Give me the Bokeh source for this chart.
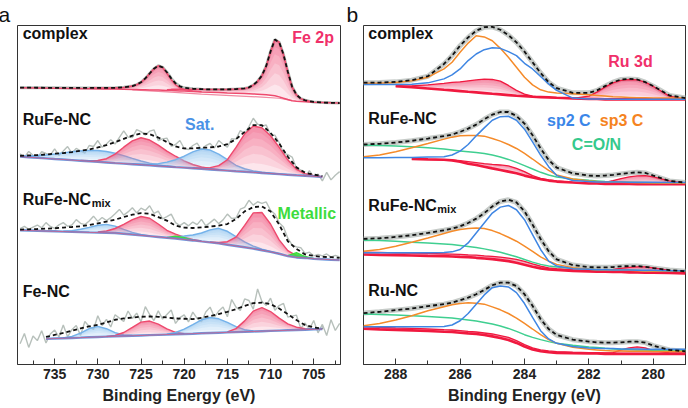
import numpy as np
from bokeh.plotting import figure
from bokeh.models import Range1d, FixedTicker, Label
from bokeh.layouts import row
from bokeh.embed import file_html
from bokeh.resources import INLINE

FONT = "Liberation Sans"

# ================= Panel a : Fe 2p (intensity in a.u.) =================
# complex
E_cx = [739, 737, 735, 733, 731, 729, 728, 727, 726, 725.5, 725, 724.5, 724, 723.5, 723, 722.5,
        722, 721.5, 721, 720.5, 720, 719, 718, 717, 716, 715, 714, 713, 712.5, 712, 711.5, 711,
        710.5, 710, 709.5, 709, 708.5, 708, 707.5, 707, 706.5, 706, 705.5, 705, 704, 703, 702]
bg_cx = [278.3, 278.1, 277.9, 277.7, 277.5, 277.2, 277.0, 276.8, 276.6, 276.5, 276.4, 276.3, 276.2,
         276.1, 276.0, 275.9, 275.7, 275.6, 275.4, 275.2, 275.0, 274.6, 274.2, 273.9, 273.6, 273.2,
         272.9, 272.5, 272.3, 272.1, 271.9, 271.6, 271.3, 270.9, 270.3, 269.2, 267.8, 266.5, 265.3,
         264.8, 264.5, 264.3, 264.1, 263.8, 263.5, 263.2, 263.0]
env_cx = [278.5, 278.4, 278.3, 278.2, 278.2, 278.2, 278.3, 278.8, 280.1, 281.5, 283.9, 287.8, 292.7,
          297.6, 300.5, 298.9, 294.0, 287.8, 282.8, 279.8, 278.3, 277.4, 277.0, 276.7, 276.7, 276.7,
          277.1, 277.7, 278.8, 281.1, 284.9, 290.6, 300.3, 314.9, 326.8, 324.2, 311.8, 294.5, 279.3,
          271.3, 267.5, 265.8, 264.8, 264.1, 263.5, 263.2, 263.0]
p1_cx_start = 4
p1_cx = [0.7, 1.0, 1.3, 2.0, 3.5, 5, 7.5, 11.5, 16.5, 21.5, 24.5, 23, 17.5, 11, 6, 3, 1.5, 0.6, 0.3]
p2_cx_start = 16
p2_cx = [0.8, 1.2, 1.4, 1.6, 1.8, 2.2, 2.5, 2.8, 3.1, 3.5, 4.2, 5.2, 6.5, 9, 13, 19, 29, 44, 56.5,
         55, 44, 28, 14, 6.5, 3, 1.5, 0.7, 0.3]
bg2_cx_E = [726, 722, 718, 714, 711, 709, 707.5]
bg2_cx = [276.3, 274.3, 272.0, 270.2, 269.0, 267.8, 265.3]

# 1 eV grid for the fitted components of the three noisy spectra
E_a = [739, 738, 737, 736, 735, 734, 733, 732, 731, 730, 729, 728, 727, 726, 725, 724, 723, 722, 721,
       720, 719, 718, 717, 716, 715, 714, 713, 712, 711, 710, 709, 708, 707, 706, 705, 704, 703, 702]
# 0.5 eV grid for the raw counts
E_raw = [739, 738.5, 738, 737.5, 737, 736.5, 736, 735.5, 735, 734.5, 734, 733.5, 733, 732.5, 732,
         731.5, 731, 730.5, 730, 729.5, 729, 728.5, 728, 727.5, 727, 726.5, 726, 725.5, 725, 724.5,
         724, 723.5, 723, 722.5, 722, 721.5, 721, 720.5, 720, 719.5, 719, 718.5, 718, 717.5, 717,
         716.5, 716, 715.5, 715, 714.5, 714, 713.5, 713, 712.5, 712, 711.5, 711, 710.5, 710, 709.5,
         709, 708.5, 708, 707.5, 707, 706.5, 706, 705.5, 705, 704.5, 704, 703.5, 703, 702.5, 702]

# RuFe-NC
bg_rf = [209.1, 208.5, 207.9, 207.3, 206.7, 206.2, 205.6, 205.0, 204.4, 203.8, 203.2, 202.6, 202.1,
         201.5, 200.9, 200.3, 199.7, 199.1, 198.5, 198.0, 197.4, 196.8, 196.2, 195.6, 195.0, 194.4,
         193.9, 193.3, 192.7, 192.1, 191.5, 190.9, 190.3, 189.8, 189.2, 188.6, 188.0, 187.4]
env_rf = [210, 210.3, 210.7, 211.3, 212, 212.7, 213.7, 215, 216.3, 218.3, 220.7, 223.7, 227, 230.3,
          232.3, 231.7, 228.3, 223.7, 219.3, 217.3, 217.3, 218, 218.3, 219.3, 221.7, 226.7, 234,
          240.7, 240.7, 233, 222.3, 209, 198.3, 193, 191, 189.7, 188.7, 188]
raw_rf = [212, 208.2, 214.3, 210.5, 207.7, 214, 212.3, 210.7, 217, 210.4, 214.7, 219.2, 212.7, 217.4,
          215, 212.7, 220.3, 219.3, 225.3, 218.5, 221.7, 226.2, 221.7, 228.4, 235, 228.7, 228.3, 236.3,
          234.3, 231, 234.7, 236, 225.3, 227, 227.7, 219.5, 221.3, 225.3, 217.3, 216.3, 220.3, 222.7,
          216, 220.2, 222.3, 217.8, 225.3, 221.5, 218.7, 227.2, 226.7, 235.4, 232, 239.4, 247.7, 241.7,
          239.7, 240.9, 231, 230.7, 223.3, 212.7, 211, 208.7, 197.3, 195.7, 189, 195, 189, 191.4,
          184.7, 193.2, 185.7, 190.4, 194]
satD_rf_start = 0
satD_rf = [0.8, 1.4, 2.3, 3.5, 5.0, 6.7, 8.4, 9.9, 11.0, 11.5, 11.0, 9.9, 8.0, 5.8, 3.8, 2.2, 1.1, 0.5, 0.2]
A_rf_start = 7
A_rf = [0.3, 0.6, 1.4, 3.8, 9.0, 16.5, 23.5, 27.2, 25.5, 21.0, 15.5, 11.0, 6.8, 3.8, 2.0, 1.0, 0.4]
satC_rf_start = 13
satC_rf = [0.3, 0.6, 1.2, 2.4, 4.5, 7.5, 11.5, 16.5, 20.0, 19.5, 16.0, 11.0, 6.0, 3.0, 1.5, 0.7, 0.3, 0.2, 0.1]
B_rf_start = 20
B_rf = [0.3, 0.8, 1.8, 4.5, 11.0, 24.0, 38.0, 46.5, 45.5, 38.0, 27.0, 15.0, 6.0, 2.2, 0.8, 0.3]

# RuFe-NC mix
bg_mx = [135.0, 134.8, 134.5, 134.2, 134.0, 133.7, 133.4, 133.2, 132.9, 132.7, 132.5, 132.3, 131.5,
         130.7, 129.9, 129.1, 128.3, 127.5, 126.7, 125.7, 124.8, 123.8, 122.9, 121.8, 120.5, 119.2,
         117.9, 116.5, 114.9, 113.3, 111.4, 109.1, 107.7, 107.2, 106.4, 105.9, 105.4, 105.0]
env_mx = [135.7, 136, 136.3, 136.7, 137, 137.7, 138.3, 139, 140.3, 142, 143.7, 145.7, 148.3, 150.7,
          152.3, 151.7, 148.3, 144.7, 139.7, 137.7, 137.3, 138, 138.7, 139.7, 141.3, 146.3, 154,
          158.3, 159, 154, 140.7, 124, 116.3, 110.7, 109.3, 108.3, 108, 107.3]
raw_mx = [136.7, 138.9, 136, 138.2, 140.3, 137.5, 142.7, 138.9, 137, 140.4, 142.7, 139, 140.3, 145.7,
          142, 140.7, 144.3, 149.2, 144, 147.9, 144.7, 147.7, 151.7, 156, 150.3, 153.5, 157.7, 152.5,
          157.3, 155, 159.7, 152, 154.3, 146.5, 148.7, 151.2, 142.7, 139.7, 142.7, 139.5, 143.3, 140.7,
          146, 139.4, 142.7, 146.2, 141.7, 145.5, 151.3, 146.8, 147.3, 156.2, 158, 165.2, 160.3, 163.7,
          162, 163.5, 155, 151.4, 142.7, 138.4, 127, 120.2, 118.3, 117.5, 111.7, 113, 109.3, 110.8,
          109.3, 111.2, 108, 109.7, 108.3]
satD_mx_start = 5
satD_mx = [0.4, 1.2, 2.8, 5.0, 7.4, 8.4, 6.9, 4.4, 2.2, 0.9, 0.3]
A_mx_start = 9
A_mx = [0.6, 1.8, 4.5, 9.5, 15.0, 19.0, 18.0, 13.0, 7.5, 4.5, 2.5, 1.0, 0.4]
satC_mx_start = 17
satC_mx = [0.3, 1.5, 3.5, 5.5, 8.5, 12.5, 15.2, 13.5, 9.5, 5.5, 2.6, 1.0, 0.4, 0.1]
B_mx_start = 22
B_mx = [0.3, 0.9, 3.0, 9.0, 22.0, 36.0, 38.0, 28.0, 14.0, 5.5, 1.8, 0.4, 0.1]
met1_mx_start = 31
met1_mx = [0.5, 4.8, 1.5, 0.2]
met2_mx_start = 17
met2_mx = [0.2, 2.5, 2.0, 0.2]

# Fe-NC
bg_fe = [24.9, 25.2, 25.5, 25.8, 26.1, 26.4, 26.7, 27.0, 27.4, 27.7, 28.0, 28.3, 28.6, 28.9, 29.2,
         29.5, 29.8, 30.1, 30.4, 30.7, 31.0, 31.4, 31.7, 32.0, 32.3, 32.6, 32.9, 33.2, 33.5, 33.8,
         34.1, 34.4, 34.7, 35.0, 35.4, 35.7, 36.0, 36.3]
env_fe = [24.9, 25.2, 26.0, 27.7, 29.7, 31.7, 34, 36.3, 38.3, 40, 42.3, 45, 46.3, 47.3, 48, 48.3, 48,
          47.3, 46.3, 46, 45.7, 47, 48.7, 50.7, 53, 55.7, 59, 61.7, 62.3, 60.7, 56.3, 50.7, 44.7,
          39.7, 37.3, 36.3, 36.0, 36.3]
raw_fe = [20.9, 31.1, 17.2, 28.6, 24, 33.9, 21.7, 30.7, 34.7, 27.7, 39.7, 27.9, 35, 39.2, 29.3, 43.3,
          38.3, 35.2, 49, 39.2, 45.3, 37.7, 50, 46.7, 43.3, 53.8, 46.3, 51.7, 43, 58.2, 50.3, 44.2, 54,
          45.7, 50.3, 54.8, 41.3, 47.2, 50, 42.9, 52.7, 46.4, 43, 52.9, 57.7, 47.7, 53.7, 57.9, 48,
          65.4, 57.7, 54.4, 66, 64.4, 55.7, 76, 63.3, 59.5, 66.7, 54.5, 59.3, 61.5, 47.7, 48.7, 49.7,
          36.2, 41.7, 35.5, 44.3, 31.8, 40.3, 29.2, 45, 34.2, 41.3]
satD_fe_start = 5
satD_fe = [0.2, 1.5, 4.6, 8.8, 10.7, 8.0, 3.8, 1.1, 0.2]
A_fe_start = 10
A_fe = [0.2, 1.0, 3.6, 8.4, 13.4, 14.2, 10.8, 5.8, 2.0, 0.4]
satC_fe_start = 17
satC_fe = [0.4, 1.8, 4.8, 9.2, 13.6, 15.6, 14.0, 10.0, 5.5, 2.2, 0.6]
B_fe_start = 24
B_fe = [0.5, 3.5, 11.0, 20.5, 23.8, 19.5, 12.5, 6.5, 2.8, 1.0, 0.3]

ticks_a = [705, 710, 715, 720, 725, 730, 735]
minor_a = [702.5, 707.5, 712.5, 717.5, 722.5, 727.5, 732.5, 737.5]

# ================= Panel b : C 1s / Ru 3d =================
E_b = [289, 288.5, 288, 287.5, 287, 286.5, 286.25, 286, 285.75, 285.5, 285.25, 285, 284.75, 284.5,
       284.25, 284, 283.75, 283.5, 283.25, 283, 282.5, 282, 281.75, 281.5, 281.25, 281, 280.75,
       280.5, 280.25, 280, 279.5, 279]

env_bcx = [283.5, 283.6, 284.3, 286.0, 290.0, 302.3, 310.7, 320.7, 329.0, 335.7, 339.3, 339.7, 336.7,
           331.3, 324.0, 314.7, 304.0, 293.3, 284.0, 278.0, 273.3, 273.3, 275.7, 280.0, 284.0, 286.7,
           287.3, 286.7, 284.0, 280.0, 270.7, 268.0]
sp2_bcx = [281.7, 281.7, 281.7, 282.0, 283.3, 287.3, 291.3, 297.3, 305.7, 312.3, 316.7, 318.7, 318.0,
           314.7, 310.7, 303.0, 297.3, 289.7, 282.3, 275.7, 268.0, 267.0, 267.0, 267.0, 266.8, 266.7,
           266.7, 266.7, 266.7, 266.7, 266.7, 266.7]
sp3_bcx = [283.0, 283.0, 283.7, 285.3, 289.0, 297.3, 304.0, 314.0, 323.3, 330.7, 329.5, 325.7, 318.0,
           309.0, 299.0, 289.0, 281.3, 276.3, 274.0, 273.0, 272.3, 271.3, 270.7, 270.0, 269.3, 269.0,
           268.7, 268.3, 268.3, 268.0, 268.0, 268.0]
ru_bcx_start = 2
rutop_bcx = [280.0, 280.3, 281.3, 282.7, 283.7, 284.3, 285.3, 286.3, 287.0, 286.7, 285.0, 280.7, 275.7,
             272.0, 270.0, 269.0, 268.7, 268.3, 267.7, 270.0, 274.0, 279.0, 283.3, 285.7, 286.7, 286.3,
             284.0, 279.7, 270.0, 266.7]
rubase_bcx = [280.0, 279.0, 277.7, 276.3, 275.7, 275.0, 274.3, 273.7, 273.0, 272.3, 271.7, 271.0, 270.3,
              270.0, 269.3, 269.0, 268.7, 268.3, 267.7, 267.0, 267.0, 266.7, 266.7, 266.7, 266.7, 266.7,
              266.7, 266.7, 266.7, 266.7]

env_brf = [221.3, 222, 223.3, 225, 227.3, 229.7, 231.3, 234, 237.3, 241.3, 246.7, 251.3, 254, 254, 250,
           242.3, 230.7, 217.3, 205.7, 198, 192.3, 190, 189.7, 190, 190.7, 191.7, 192.7, 193.3, 192.7,
           190, 184.7, 183]
sp2_brf = [208, 208, 208.3, 208.3, 208.7, 209, 210.7, 214.7, 221.3, 230, 238, 245.7, 249.3, 249.7, 245.7,
           236.7, 224, 210.7, 199, 190, 185, 184, 183.7, 183.7, 183.7, 183.7, 183.3, 183.3, 183.3, 183.3,
           183, 183]
sp3_brf = [209, 210.7, 214, 218, 222.3, 226.7, 228.7, 230, 230.3, 230.3, 229.7, 227.3, 224.7, 221.3,
           217.3, 212.3, 206.7, 200.7, 195.3, 190.7, 186.7, 184.7, 184, 183.7, 183.3, 183.3, 183, 183,
           182.7, 182.7, 182.3, 182.3]
con_brf = [220.7, 220.3, 219.7, 219, 218, 216.7, 215.7, 214.7, 214, 213.3, 212.3, 210.7, 208.7, 206.3,
           203.3, 200, 196.7, 193.3, 190.7, 188.7, 186.7, 185.3, 184.7, 184, 183.7, 183.3, 183.3, 183,
           183, 182.7, 182.7, 182.7]
ru_brf_start = 3
rutop_brf = [206.7, 206.3, 206, 205.7, 205, 204, 203, 202, 201.3, 200.7, 199.7, 197.3, 194, 190, 187.3,
             185.7, 184.7, 183.3, 182.3, 182.3, 183.3, 185, 187, 188.7, 189.7, 190, 188.7, 184.7, 182.3]
rubase_brf = [206.7, 206.3, 206, 205.3, 204, 202, 200.7, 199, 197.3, 195.7, 194, 192.3, 190, 188, 186.3,
              185, 184, 183, 182, 182, 181.7, 181.7, 181.7, 181.7, 181.3, 181.3, 181.3, 181.3, 181.3]

env_bmx = [126.3, 127, 128.3, 130, 132.3, 135, 136.7, 139, 142.3, 146.7, 152.3, 159, 164, 165.7, 163, 154,
           140.7, 126.3, 114, 105.7, 100, 98, 97.7, 97.7, 98, 98.7, 99, 99, 98.3, 97, 95, 93.7]
sp2_bmx = [112.3, 112.3, 112.3, 112.3, 112.3, 112.7, 113.3, 115.7, 122.3, 132.3, 142.3, 152.3, 158.3, 160,
           155.7, 145.7, 130.7, 115.7, 104, 99, 96.3, 95.7, 95.3, 95.3, 95, 95, 95, 94.7, 94.7, 94.7,
           94.3, 94.3]
sp3_bmx = [114, 115.7, 119, 123, 127.3, 131.7, 134, 135.7, 136.7, 137.3, 136.7, 134.7, 131.7, 128, 124,
           119, 113.7, 108.3, 104, 100.7, 97.3, 95.7, 95.3, 95, 95, 94.7, 94.7, 94.3, 94.3, 94, 94, 94]
con_bmx = [125, 124.7, 124, 123, 122.3, 121.3, 120.7, 119.7, 118.7, 117.7, 116.3, 114.7, 113, 110.7,
           108.3, 105.7, 103, 100.7, 99, 98, 96.7, 95.7, 95.3, 95.3, 95, 95, 94.7, 94.7, 94.3, 94.3, 94, 94]
ru_bmx_start = 0
rutop_bmx = [113, 112.7, 112.3, 112, 111.7, 111.3, 111, 110.7, 110.3, 110, 109.3, 108.7, 108, 107, 105.7,
             103.7, 101.3, 99, 97.3, 96.3, 95.3, 94.7, 94.7, 95, 95.7, 96.7, 97.7, 98.3, 98.3, 97.3,
             94.7, 93.3]
rubase_bmx = [110.7, 110.3, 110, 109.7, 109.3, 109, 108.7, 108.3, 108, 107.3, 106.7, 106, 105, 104, 102.3,
              100.3, 98.3, 96.7, 95.7, 95, 94, 93.7, 93.3, 93.3, 93, 93, 92.7, 92.7, 92.3, 92.3, 92, 91.7]

env_bru = [51.7, 53, 54.7, 56.3, 58.7, 60.7, 62.3, 64.7, 67.3, 70.7, 75, 79.7, 82.3, 82.3, 79, 70.7, 59,
           45.7, 35.7, 29.7, 25, 23, 22.3, 22, 22, 22.3, 23, 23, 22, 19, 14.7, 13.3]
sp2_bru = [38, 38, 38, 38, 38, 38.3, 39.7, 44, 51.3, 60.7, 70, 77.3, 79, 78, 72.3, 61.3, 47.3, 34, 25.7,
           21.3, 18, 16.7, 16.3, 16, 16, 15.7, 15.7, 15.7, 15.3, 15.3, 15.3, 15.3]
sp3_bru = [39, 41.3, 44.7, 49, 54, 58, 60, 61.3, 62, 61.7, 60.7, 58, 55, 51.3, 46.7, 41.3, 35.7, 30, 25,
           21.3, 17.3, 15.3, 14.7, 14, 13.7, 13.7, 13.3, 13.3, 13.3, 13, 13, 13]
con_bru = [50.7, 50.3, 49.7, 49, 48.3, 47.3, 46.7, 45.7, 44.7, 43.7, 42.3, 40.7, 38.7, 36.3, 33.3, 30,
           27.3, 25, 23, 21.3, 19.3, 17.7, 17, 16.3, 15.7, 15.3, 15, 14.7, 14.7, 14.3, 14, 14]
ru_bru_start = 0
rutop_bru = [38, 37.3, 36.7, 36.3, 35.7, 35, 34.7, 34, 33.3, 32.7, 31.7, 30.7, 29, 27.3, 24, 20, 16.7,
             14.7, 13.7, 13, 12.3, 12, 12, 11.7, 12, 14.7, 16.7, 17.7, 16.7, 14, 11.7, 11.3]
rubase_bru = [36, 35.3, 34.7, 34.3, 33.7, 33, 32.7, 32, 31.3, 30.7, 29.7, 28.3, 26.7, 24.7, 21.7, 18, 15,
              13.3, 12.3, 11.7, 11.3, 11, 11, 10.7, 10.7, 10.7, 10.7, 10.7, 10.7, 10.7, 10.7, 10.7]

ticks_b = [280, 282, 284, 286, 288]
minor_b = [279, 281, 283, 285, 287, 289]

# ================= styling =================
RED_A = "#ee4a6e"
RED_FILL = "#f2658a"
BLUE_A = "#74b2ea"
BLUE_FILL = "#94c6f0"
BG_BLUE = "#5b8fdc"
GREY = "#b7c0bb"
GREEN_M = "#3ddc3d"
B_BLUE = "#3f86e3"
B_ORANGE = "#f58b2a"
B_GREEN = "#3fcf90"
B_RED = "#f0193f"
B_PINK = "#f36f91"
RED_TXT = "#f0306a"

# gradient layers (fraction of peak height where layer starts, alpha)
GRAD = ((0.0, 0.16), (0.2, 0.14), (0.4, 0.16), (0.58, 0.18), (0.74, 0.2), (0.87, 0.22))


def A(v):
    return np.array(v, dtype=float)


def stack(E, bg, start, vals):
    n = len(vals)
    x = A(E)[start:start + n]
    base = A(bg)[start:start + n]
    return x, base, base + A(vals)


def shade(p, x, base, top, fill, line, lw=1.4):
    h = top - base
    for f, a in GRAD:
        p.varea(x=x, y1=base + f * h, y2=top, fill_color=fill, fill_alpha=a)
    p.line(x, top, line_color=line, line_width=lw)


def lab(p, x, y, text, color="#111111", size="16px", style="bold", x_offset=0):
    p.add_layout(Label(x=x, y=y, text=text, text_color=color, text_font=FONT,
                       text_font_size=size, text_font_style=style, text_baseline="alphabetic",
                       x_offset=x_offset))


def style(p, ticks, minor, letter, letter_offset):
    p.outline_line_color = "#333333"
    p.outline_line_width = 1
    p.grid.visible = False
    p.background_fill_color = "white"
    p.border_fill_color = "white"
    p.title.text = letter
    p.title.text_font = FONT
    p.title.text_font_size = "21px"
    p.title.text_font_style = "normal"
    p.title.text_color = "#111111"
    p.title.align = "left"
    p.title.offset = letter_offset
    p.title.standoff = 0
    ax = p.xaxis[0]
    ax.ticker = FixedTicker(ticks=ticks, minor_ticks=minor)
    ax.axis_line_color = "#333333"
    ax.major_tick_in = 6
    ax.major_tick_out = 0
    ax.minor_tick_in = 4
    ax.minor_tick_out = 0
    ax.major_tick_line_color = "#333333"
    ax.minor_tick_line_color = "#333333"
    ax.major_label_text_font = FONT
    ax.major_label_text_font_style = "bold"
    ax.major_label_text_font_size = "14px"
    ax.major_label_text_color = "#222222"
    ax.major_label_standoff = 4
    ax.axis_label = "Binding Energy (eV)"
    ax.axis_label_text_font = FONT
    ax.axis_label_text_font_style = "bold"
    ax.axis_label_text_font_size = "16px"
    ax.axis_label_text_color = "#222222"
    ax.axis_label_standoff = 5


# ================= figure a =================
fa = figure(width=344, height=408, x_range=Range1d(739.3, 701.9), y_range=Range1d(0, 341),
            output_backend="svg", toolbar_location=None, y_axis_location=None,
            min_border_left=17, min_border_right=4, min_border_top=23, min_border_bottom=44)
style(fa, ticks_a, minor_a, "a", -19)

# complex
fa.line(E_cx, env_cx, line_color=GREY, line_width=3)
for st, v in ((p1_cx_start, p1_cx), (p2_cx_start, p2_cx)):
    x, b, t = stack(E_cx, bg_cx, st, v)
    shade(fa, x, b, t, RED_FILL, RED_A)
fa.line(bg2_cx_E, bg2_cx, line_color="#f08aa2", line_width=1.2)
fa.line(E_cx, bg_cx, line_color=RED_A, line_width=1.5)
fa.line(E_cx, env_cx, line_color="#111111", line_width=1.8, line_dash="4 3")

spectra = [
    (bg_rf, env_rf, raw_rf, [(satD_rf_start, satD_rf, "b"), (A_rf_start, A_rf, "r"),
                             (satC_rf_start, satC_rf, "b"), (B_rf_start, B_rf, "r")], 0, 36, []),
    (bg_mx, env_mx, raw_mx, [(satD_mx_start, satD_mx, "b"), (A_mx_start, A_mx, "r"),
                             (satC_mx_start, satC_mx, "b"), (B_mx_start, B_mx, "r")], 0, 38,
     [(met1_mx_start, met1_mx), (met2_mx_start, met2_mx)]),
    (bg_fe, env_fe, raw_fe, [(satD_fe_start, satD_fe, "b"), (A_fe_start, A_fe, "r"),
                             (satC_fe_start, satC_fe, "b"), (B_fe_start, B_fe, "r")], 3, 36, []),
]
Ea = A(E_a)
for bg, env, raw, peaks, i0, i1, mets in spectra:
    fa.line(E_raw, raw, line_color=GREY, line_width=1.4)
    for st, v, kind in peaks:
        x, b, t = stack(E_a, bg, st, v)
        if kind == "r":
            shade(fa, x, b, t, RED_FILL, RED_A)
        else:
            shade(fa, x, b, t, BLUE_FILL, BLUE_A)
    for st, v in mets:
        x, b, t = stack(E_a, bg, st, v)
        fa.varea(x=x, y1=b, y2=t, fill_color=GREEN_M, fill_alpha=0.9)
        fa.line(x, t, line_color=GREEN_M, line_width=1.2)
    bga = A(bg)[i0:i1]
    fa.line(Ea[i0:i1], bga, line_color=BG_BLUE, line_width=2.4, line_alpha=0.9)
    fa.line(Ea[i0:i1], bga, line_color=RED_A, line_width=0.8, line_alpha=0.8)
    fa.line(Ea[i0:i1], A(env)[i0:i1], line_color="#111111", line_width=1.8, line_dash="4 3")

lab(fa, 738.7, 333, "complex")
lab(fa, 707.5, 329, "Fe 2p", color=RED_TXT)
lab(fa, 738.7, 246, "RuFe-NC")
lab(fa, 719.9, 241, "Sat.", color="#4b92e6")
lab(fa, 738.7, 166, "RuFe-NC")
lab(fa, 738.7, 162, "mix", size="11px", x_offset=69)
lab(fa, 709.2, 152, "Metallic", color=GREEN_M)
lab(fa, 738.7, 73, "Fe-NC")

# ================= figure b =================
fb = figure(width=344, height=408, x_range=Range1d(289.0, 279.0), y_range=Range1d(0, 341),
            output_backend="svg", toolbar_location=None, y_axis_location=None,
            min_border_left=19, min_border_right=3, min_border_top=23, min_border_bottom=44)
style(fb, ticks_b, minor_b, "b", -17)

b_spectra = [
    (env_bcx, sp2_bcx, sp3_bcx, None, ru_bcx_start, rutop_bcx, rubase_bcx),
    (env_brf, sp2_brf, sp3_brf, con_brf, ru_brf_start, rutop_brf, rubase_brf),
    (env_bmx, sp2_bmx, sp3_bmx, con_bmx, ru_bmx_start, rutop_bmx, rubase_bmx),
    (env_bru, sp2_bru, sp3_bru, con_bru, ru_bru_start, rutop_bru, rubase_bru),
]
Eb = A(E_b)
for env, sp2, sp3, con, rs, rtop, rbase in b_spectra:
    fb.line(Eb, env, line_color="#c6cbc8", line_width=5)
    xr = Eb[rs:rs + len(rtop)]
    t = A(rtop)
    b = A(rbase)
    h = t - b
    for f, a in GRAD:
        fb.varea(x=xr, y1=b + f * h, y2=t, fill_color=B_PINK, fill_alpha=a + 0.04)
    fb.line(xr, b, line_color=B_RED, line_width=2.6)
    fb.line(xr, t, line_color=B_RED, line_width=1.3)
    if con is not None:
        fb.line(Eb, con, line_color=B_GREEN, line_width=1.5)
    fb.line(Eb, sp3, line_color=B_ORANGE, line_width=1.5)
    fb.line(Eb, sp2, line_color=B_BLUE, line_width=1.5)
    fb.line(Eb, env, line_color="#111111", line_width=1.8, line_dash="4 3")

lab(fb, 288.85, 333, "complex")
lab(fb, 281.4, 305, "Ru 3d", color=RED_TXT)
lab(fb, 288.85, 247, "RuFe-NC")
lab(fb, 283.3, 245, "sp2 C", color="#3b86e8")
lab(fb, 281.66, 245, "sp3 C", color="#f5841f")
lab(fb, 282.53, 221, "C=O/N", color="#35c98c")
lab(fb, 288.85, 160, "RuFe-NC")
lab(fb, 288.85, 156, "mix", size="11px", x_offset=69)
lab(fb, 288.85, 74, "Ru-NC")

layout = row(fa, fb)
open("out.html", "w").write(file_html(layout, INLINE))
